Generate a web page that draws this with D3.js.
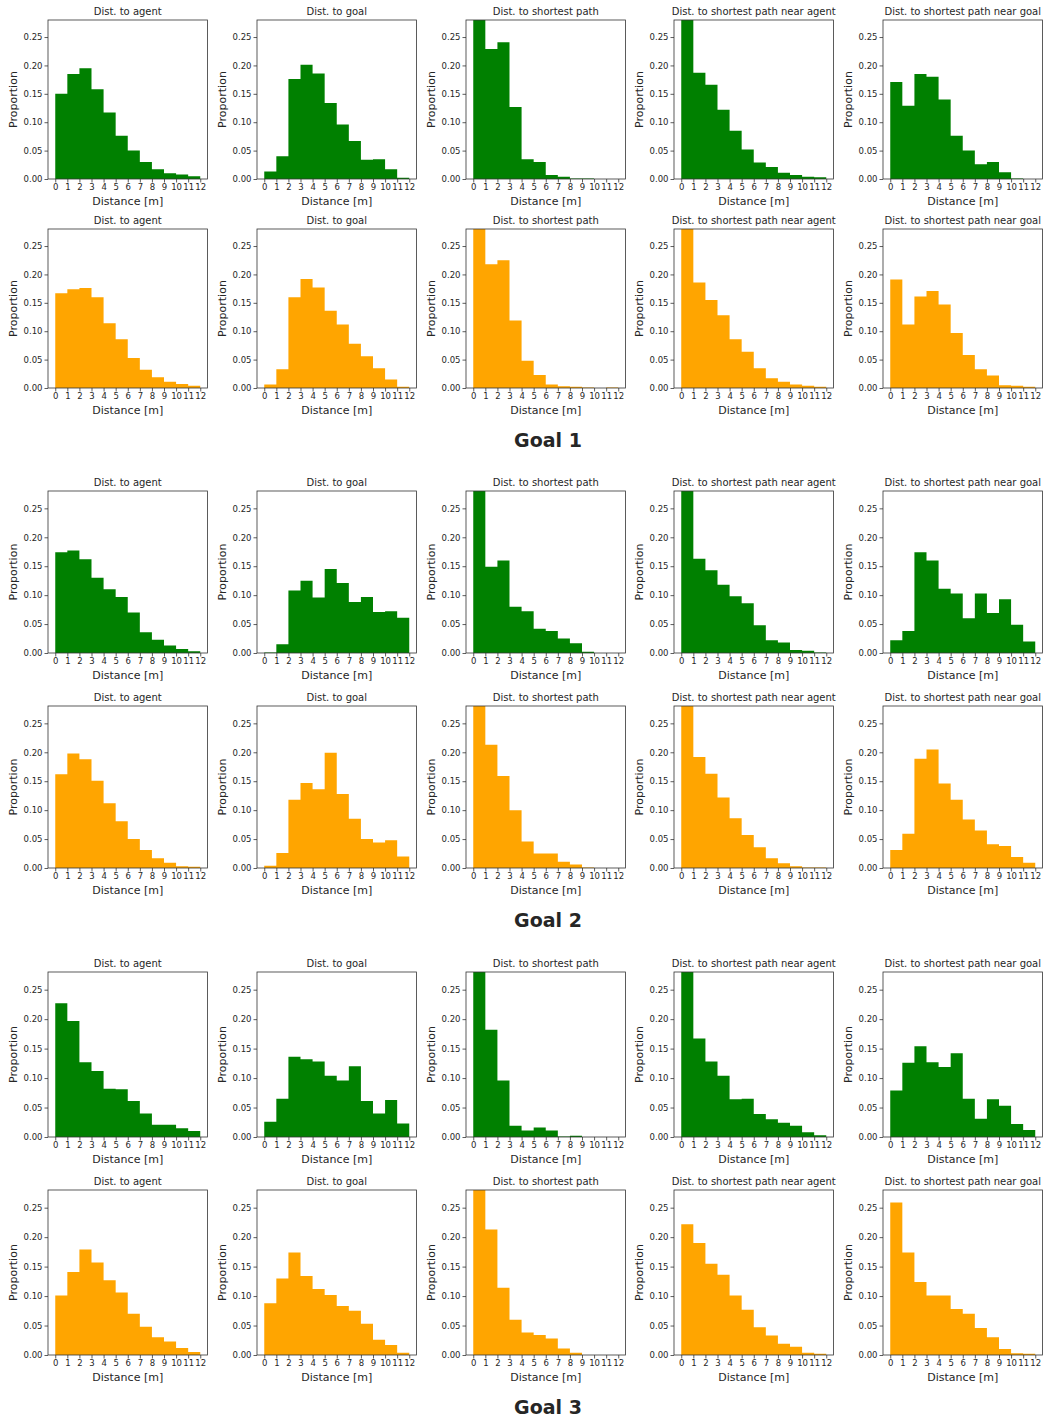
<!DOCTYPE html>
<html>
<head>
<meta charset="utf-8">
<script src="https://cdn.jsdelivr.net/npm/d3@7"></script>
<style>
  body { margin: 0; background: #fff; }
  text { font-family: "DejaVu Sans", sans-serif; fill: #262626; }
</style>
</head>
<body>
<div id="chart"></div>
<script>
// bin edges, tick labels and panel text
const binEdges = [0, 1, 2, 3, 4, 5, 6, 7, 8, 9, 10, 11, 12];
const xTicks = [0, 1, 2, 3, 4, 5, 6, 7, 8, 9, 10, 11, 12];
const yTicks = [0, 0.05, 0.10, 0.15, 0.20, 0.25];
const panelTitles = ["Dist. to agent", "Dist. to goal", "Dist. to shortest path",
    "Dist. to shortest path near agent", "Dist. to shortest path near goal"];
const goalLabels = ["Goal 1", "Goal 2", "Goal 3"];

// proportions per 1 m bin, one list per panel (agent, goal, shortest path, near agent, near goal)
const goal1Green = [
    [0.150, 0.185, 0.195, 0.158, 0.117, 0.076, 0.050, 0.030, 0.017, 0.010, 0.008, 0.005],
    [0.013, 0.040, 0.176, 0.201, 0.186, 0.134, 0.096, 0.067, 0.034, 0.035, 0.017, 0.002],
    [0.325, 0.229, 0.241, 0.127, 0.035, 0.030, 0.007, 0.004, 0.001, 0.001, 0.000, 0.000],
    [0.313, 0.187, 0.166, 0.122, 0.085, 0.052, 0.029, 0.021, 0.011, 0.007, 0.004, 0.003],
    [0.171, 0.129, 0.185, 0.180, 0.140, 0.076, 0.050, 0.026, 0.030, 0.012, 0.001, 0.000]
];
const goal1Orange = [
    [0.167, 0.174, 0.176, 0.160, 0.114, 0.086, 0.053, 0.032, 0.019, 0.011, 0.007, 0.004],
    [0.006, 0.033, 0.160, 0.192, 0.177, 0.136, 0.112, 0.078, 0.056, 0.035, 0.015, 0.002],
    [0.354, 0.218, 0.225, 0.119, 0.048, 0.023, 0.006, 0.003, 0.002, 0.001, 0.000, 0.001],
    [0.306, 0.186, 0.155, 0.128, 0.086, 0.064, 0.035, 0.017, 0.011, 0.006, 0.004, 0.002],
    [0.191, 0.112, 0.161, 0.171, 0.147, 0.097, 0.058, 0.033, 0.022, 0.005, 0.004, 0.002]
];
const goal2Green = [
    [0.174, 0.177, 0.162, 0.130, 0.110, 0.097, 0.070, 0.036, 0.023, 0.013, 0.007, 0.003],
    [0.001, 0.015, 0.108, 0.125, 0.096, 0.145, 0.121, 0.088, 0.097, 0.071, 0.072, 0.061],
    [0.415, 0.149, 0.160, 0.080, 0.072, 0.042, 0.038, 0.025, 0.017, 0.002, 0.000, 0.000],
    [0.294, 0.163, 0.143, 0.118, 0.098, 0.086, 0.048, 0.022, 0.018, 0.005, 0.004, 0.001],
    [0.022, 0.038, 0.174, 0.160, 0.111, 0.103, 0.060, 0.103, 0.069, 0.093, 0.049, 0.020]
];
const goal2Orange = [
    [0.162, 0.198, 0.188, 0.151, 0.112, 0.081, 0.050, 0.031, 0.017, 0.009, 0.003, 0.002],
    [0.004, 0.026, 0.118, 0.147, 0.136, 0.199, 0.128, 0.085, 0.050, 0.044, 0.048, 0.020],
    [0.414, 0.213, 0.159, 0.100, 0.046, 0.025, 0.025, 0.011, 0.006, 0.001, 0.000, 0.000],
    [0.314, 0.192, 0.163, 0.122, 0.086, 0.057, 0.036, 0.017, 0.008, 0.003, 0.001, 0.001],
    [0.031, 0.059, 0.189, 0.205, 0.146, 0.118, 0.084, 0.065, 0.041, 0.038, 0.019, 0.009]
];
const goal3Green = [
    [0.227, 0.197, 0.127, 0.112, 0.082, 0.081, 0.061, 0.040, 0.021, 0.021, 0.015, 0.010],
    [0.026, 0.065, 0.136, 0.132, 0.128, 0.104, 0.096, 0.120, 0.061, 0.040, 0.063, 0.023],
    [0.662, 0.182, 0.096, 0.019, 0.011, 0.016, 0.011, 0.001, 0.002, 0.000, 0.000, 0.000],
    [0.349, 0.167, 0.128, 0.104, 0.064, 0.065, 0.039, 0.030, 0.024, 0.019, 0.008, 0.003],
    [0.079, 0.126, 0.154, 0.127, 0.119, 0.142, 0.065, 0.031, 0.064, 0.053, 0.022, 0.012]
];
const goal3Orange = [
    [0.101, 0.141, 0.179, 0.157, 0.127, 0.106, 0.070, 0.048, 0.030, 0.023, 0.012, 0.005],
    [0.088, 0.130, 0.174, 0.134, 0.112, 0.102, 0.083, 0.075, 0.053, 0.026, 0.017, 0.004],
    [0.498, 0.213, 0.114, 0.060, 0.038, 0.034, 0.028, 0.011, 0.004, 0.000, 0.000, 0.000],
    [0.222, 0.190, 0.155, 0.136, 0.101, 0.077, 0.047, 0.033, 0.019, 0.014, 0.004, 0.002],
    [0.259, 0.174, 0.124, 0.101, 0.101, 0.078, 0.070, 0.046, 0.030, 0.010, 0.003, 0.002]
];

const groups = [
    { label: goalLabels[0], rows: [goal1Green, goal1Orange] },
    { label: goalLabels[1], rows: [goal2Green, goal2Orange] },
    { label: goalLabels[2], rows: [goal3Green, goal3Orange] }
];
const rowColors = ["#008000", "#ffa500"];

// layout (pixels)
const width = 1044, height = 1420;
const colLefts = [48, 257, 466, 674, 883];
const panelW = 159.5;
const rowTops = [[20, 229], [491, 706], [972, 1190]];
const rowBottoms = [[179, 388], [653, 868], [1137, 1355]];
const goalY = [440, 920, 1407];

const svg = d3.select("#chart")
    .append("svg")
    .attr("width", width)
    .attr("height", height);

svg.append("rect").attr("width", width).attr("height", height).attr("fill", "#fff");

let clipId = 0;

groups.forEach((grp, gi) => {
    grp.rows.forEach((series, ri) => {
        const top = rowTops[gi][ri];
        const bottom = rowBottoms[gi][ri];

        series.forEach((vals, ci) => {
            const left = colLefts[ci];

            const x = d3.scaleLinear().domain([-0.6, 12.6]).range([left, left + panelW]);
            const y = d3.scaleLinear().domain([0, 0.28]).range([bottom, top]);

            const id = "clip" + (clipId++);
            svg.append("clipPath").attr("id", id)
                .append("rect")
                .attr("x", left).attr("y", top)
                .attr("width", panelW).attr("height", bottom - top);

            const pts = binEdges.map((e, i) => ({ e: e, v: vals[Math.min(i, vals.length - 1)] }));
            const area = d3.area()
                .curve(d3.curveStepAfter)
                .x(d => x(d.e))
                .y0(y(0))
                .y1(d => y(d.v));

            svg.append("path")
                .datum(pts)
                .attr("clip-path", `url(#${id})`)
                .attr("d", area)
                .attr("fill", rowColors[ri]);

            // axes
            svg.append("g")
                .attr("transform", `translate(0,${bottom})`)
                .call(d3.axisBottom(x).tickValues(xTicks).tickFormat(d3.format("d")).tickSize(3.5).tickPadding(1.5))
                .call(g => g.select(".domain").remove())
                .call(g => g.selectAll("line").attr("stroke", "#333").attr("stroke-width", 0.8))
                .call(g => g.selectAll("text").attr("font-size", 8.5).attr("font-family", "DejaVu Sans").attr("fill", "#262626"));

            svg.append("g")
                .attr("transform", `translate(${left},0)`)
                .call(d3.axisLeft(y).tickValues(yTicks).tickFormat(d3.format(".2f")).tickSize(3.5).tickPadding(2))
                .call(g => g.select(".domain").remove())
                .call(g => g.selectAll("line").attr("stroke", "#333").attr("stroke-width", 0.8))
                .call(g => g.selectAll("text").attr("font-size", 8.5).attr("font-family", "DejaVu Sans").attr("fill", "#262626"));

            // frame
            svg.append("rect")
                .attr("x", left).attr("y", top)
                .attr("width", panelW).attr("height", bottom - top)
                .attr("fill", "none")
                .attr("stroke", "#333")
                .attr("stroke-width", 0.8);

            svg.append("text")
                .attr("x", left + panelW / 2)
                .attr("y", top - 5)
                .attr("text-anchor", "middle")
                .attr("font-size", 10)
                .text(panelTitles[ci]);

            svg.append("text")
                .attr("x", left + panelW / 2)
                .attr("y", bottom + 26)
                .attr("text-anchor", "middle")
                .attr("font-size", 11)
                .text("Distance [m]");

            svg.append("text")
                .attr("transform", `translate(${left - 31},${(top + bottom) / 2}) rotate(-90)`)
                .attr("text-anchor", "middle")
                .attr("font-size", 11)
                .text("Proportion");
        });
    });

    svg.append("text")
        .attr("x", 548)
        .attr("y", goalY[gi] + 7)
        .attr("text-anchor", "middle")
        .attr("font-family", "'Open Sans', 'Noto Sans', sans-serif")
        .attr("font-weight", "bold")
        .attr("font-size", 19)
        .attr("fill", "#000")
        .text(grp.label);
});
</script>
</body>
</html>
